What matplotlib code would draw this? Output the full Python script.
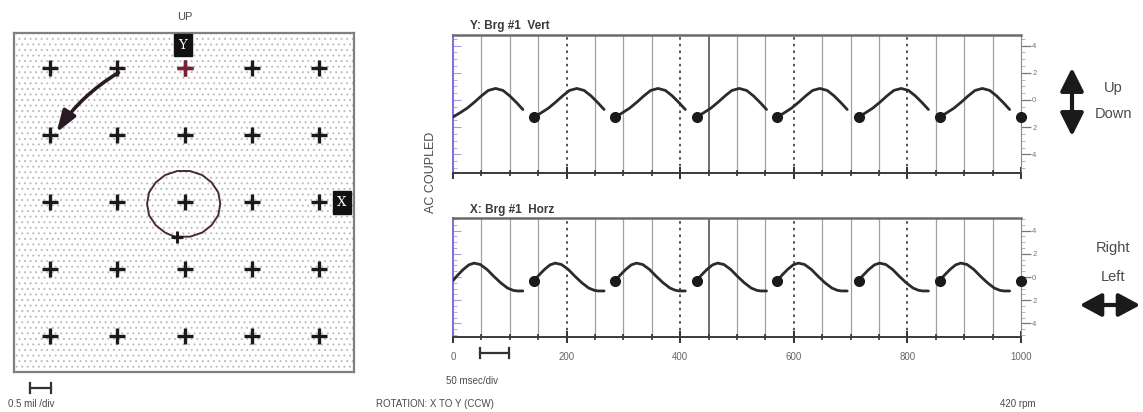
import matplotlib
matplotlib.use("Agg")
import matplotlib.pyplot as plt
from matplotlib.patches import Rectangle, FancyArrowPatch
from matplotlib.ticker import MultipleLocator, FixedLocator
import numpy as np

plt.rcParams['font.family'] = ['Liberation Sans', 'DejaVu Sans']
plt.rcParams['hatch.color'] = '#bdbdbd'
plt.rcParams['hatch.linewidth'] = 0.7

W, H = 1143, 412

# ---- orbit plot (units: divisions, 0.5 mil/div) ----
grid_x = [-2, -1, 0, 1, 2]
grid_y = [-2, -1, 0, 1, 2]
orbit_x = [-0.11, 0.08, 0.26, 0.40, 0.50, 0.53, 0.50, 0.40, 0.26, 0.08, -0.11,
           -0.29, -0.43, -0.53, -0.56, -0.53, -0.43, -0.29, -0.20, -0.13]
orbit_y = [-0.52, -0.52, -0.46, -0.35, -0.20, -0.03, 0.14, 0.29, 0.40, 0.46, 0.46,
           0.40, 0.29, 0.14, -0.03, -0.20, -0.35, -0.46, -0.50, -0.52]
orbit_kp = (-0.12, -0.52)
vector_start = (-0.95, 1.95)
vector_end = (-1.93, 1.0)

# ---- timebase plots (msec) ----
rev_start = [0, 143, 286, 429, 571, 714, 857]
keyphasor_t = [143, 286, 429, 571, 714, 857, 1000]
vert_t = [0, 12, 25, 38, 50, 62, 75, 88, 100, 112, 123]
vert_amp = [-1.25, -0.95, -0.6, -0.15, 0.3, 0.7, 0.85, 0.7, 0.3, -0.2, -0.7]
vert_kp = -1.25
horz_t = [0, 8, 18, 28, 37, 48, 60, 72, 84, 96, 106, 113, 123]
horz_amp = [-0.3, 0.15, 0.65, 1.05, 1.2, 1.08, 0.65, 0.05, -0.5, -0.95, -1.15, -1.2, -1.2]
horz_kp = -0.3
x_ticks = [0, 200, 400, 600, 800, 1000]
y_ticks = [-4, -2, 0, 2, 4]
y_ticklabels = ['4', '2', '0', '2', '4']

txt = '#4a4a4a'
fig = plt.figure(figsize=(W / 100, H / 100), dpi=100)


def fx(px):
    return px / W


def fy(py):
    return 1 - py / H


# ================= orbit =================
ax = fig.add_axes([fx(14), fy(372), fx(340), 339 / H])
ax.set_xlim(-2.54, 2.52)
ax.set_ylim(-2.54, 2.52)
ax.add_patch(Rectangle((-2.54, -2.54), 5.06, 5.06, facecolor='white',
                       hatch='...', edgecolor='#bdbdbd', lw=0, zorder=0))
for s in ax.spines.values():
    s.set_color('#808080')
    s.set_linewidth(1.6)
ax.set_xticks([])
ax.set_yticks([])
gx, gy = np.meshgrid(grid_x, grid_y)
ax.plot(gx.ravel(), gy.ravel(), '+', color='#1a1a1a', ms=11, mew=2.4, zorder=3)
ax.plot([0], [2], '+', color='#7a2035', ms=11, mew=2.4, zorder=4)

ax.plot(orbit_x, orbit_y, color='#4a2a3a', lw=1.4, zorder=5)
ax.plot([orbit_kp[0]], [orbit_kp[1]], '+', color='#1a1a1a', ms=8, mew=2.2, zorder=6)

ax.add_patch(FancyArrowPatch(vector_start, vector_end,
                             arrowstyle='-|>,head_length=0.65,head_width=0.22',
                             mutation_scale=20, connectionstyle='arc3,rad=0.12',
                             color='#2a1a24', lw=2.6, zorder=6))

ax.text(-0.03, 2.34, 'Y', color='white', fontsize=9.5, family='DejaVu Serif',
        ha='center', va='center', zorder=7,
        bbox=dict(boxstyle='square,pad=0.35', fc='#111111', ec='#111111'))
ax.text(2.34, -0.01, 'X', color='white', fontsize=9.5, family='DejaVu Serif',
        ha='center', va='center', zorder=7,
        bbox=dict(boxstyle='square,pad=0.35', fc='#111111', ec='#111111'))

fig.text(fx(185), fy(17), 'UP', fontsize=8, color=txt, ha='center', va='center')
fig.text(fx(8), fy(404), '0.5 mil /div', fontsize=7, color=txt, ha='left', va='center')
fig.add_artist(plt.Line2D([fx(30), fx(51)], [fy(388), fy(388)], color='#333', lw=1.6))
for px in (30, 51):
    fig.add_artist(plt.Line2D([fx(px), fx(px)], [fy(383), fy(393)], color='#333', lw=1.6))


# ================= timebase =================
def timebase(rect, ylim, t, amp, kp, title, labels):
    a = fig.add_axes(rect)
    a.set_xlim(0, 1000)
    a.set_ylim(*ylim)
    for g in range(50, 1000, 50):
        if g % 200 == 0:
            a.axvline(g, color='#333333', lw=1.2, ls=(0, (1.5, 2.5)), zorder=1)
        elif g == 450:
            a.axvline(g, color='#555555', lw=1.2, zorder=1)
        else:
            a.axvline(g, color='#a0a0a0', lw=0.9, zorder=1)
    for s in rev_start:
        a.plot([s + v for v in t], amp, color='#2e2a2c', lw=2.0,
               solid_capstyle='round', zorder=3)
    a.plot(keyphasor_t, [kp] * len(keyphasor_t), 'o', color='#1a1a1a', ms=7,
           clip_on=False, zorder=4)

    a.spines['top'].set_color('#6a6a6a')
    a.spines['top'].set_linewidth(1.8)
    a.spines['bottom'].set_color('#3a3a3a')
    a.spines['bottom'].set_linewidth(1.4)
    a.spines['right'].set_color('#8a8a8a')
    a.spines['left'].set_color('#7d72d6')
    a.spines['left'].set_linewidth(1.4)

    a.xaxis.set_major_locator(FixedLocator(x_ticks))
    a.xaxis.set_minor_locator(MultipleLocator(50))
    a.tick_params(axis='x', which='major', direction='inout', length=9, width=1.4,
                  color='#333', labelsize=7, labelcolor='#666', pad=6)
    a.tick_params(axis='x', which='minor', direction='inout', length=5, width=1.2,
                  color='#333')
    if not labels:
        a.tick_params(axis='x', labelbottom=False)

    a.yaxis.tick_right()
    a.yaxis.set_major_locator(FixedLocator(y_ticks))
    a.set_yticklabels(y_ticklabels)
    a.yaxis.set_minor_locator(MultipleLocator(0.5))
    a.tick_params(axis='y', which='major', direction='out', length=7, width=0.9,
                  color='#777', labelsize=5.5, labelcolor='#777', pad=1)
    a.tick_params(axis='y', which='minor', direction='out', length=3, width=0.6,
                  color='#aaa')

    sec = a.secondary_yaxis('left')
    sec.spines['left'].set_color('#7d72d6')
    sec.yaxis.set_major_locator(MultipleLocator(2))
    sec.yaxis.set_minor_locator(MultipleLocator(0.5))
    sec.tick_params(which='both', direction='in', color='#a59ce6', labelleft=False)
    sec.tick_params(which='major', length=6, width=0.8)
    sec.tick_params(which='minor', length=3, width=0.6)

    a.text(0.03, 1.02, title, transform=a.transAxes, fontsize=8.5, weight='bold',
           color='#3a3a3a', ha='left', va='bottom')
    return a


timebase([fx(453), fy(173), fx(568), 138 / H], (-5.37, 4.78),
         vert_t, vert_amp, vert_kp, 'Y: Brg #1  Vert', False)
timebase([fx(453), fy(337), fx(568), 119 / H], (-5.17, 5.09),
         horz_t, horz_amp, horz_kp, 'X: Brg #1  Horz', True)

fig.text(fx(431), fy(172), 'AC COUPLED', rotation=90, fontsize=9, color=txt,
         ha='center', va='center')
fig.text(fx(446), fy(381), '50 msec/div', fontsize=7, color=txt, ha='left', va='center')
fig.add_artist(plt.Line2D([fx(480), fx(509)], [fy(353), fy(353)], color='#333', lw=1.6))
for px in (480, 509):
    fig.add_artist(plt.Line2D([fx(px), fx(px)], [fy(348), fy(358)], color='#333', lw=1.6))

fig.text(fx(435), fy(404), 'ROTATION: X TO Y (CCW)', fontsize=7, color=txt,
         ha='center', va='center')
fig.text(fx(1018), fy(404), '420 rpm', fontsize=7, color=txt, ha='center', va='center')

fig.add_artist(FancyArrowPatch((fx(1072), fy(65)), (fx(1072), fy(139)),
                               transform=fig.transFigure,
                               arrowstyle='<|-|>,head_length=0.7,head_width=0.35',
                               mutation_scale=20, color='#1a1a1a', lw=3))
fig.text(fx(1113), fy(88), 'Up', fontsize=10.5, color=txt, ha='center', va='center')
fig.text(fx(1113), fy(114), 'Down', fontsize=10.5, color=txt, ha='center', va='center')

fig.add_artist(FancyArrowPatch((fx(1077), fy(305)), (fx(1143), fy(305)),
                               transform=fig.transFigure,
                               arrowstyle='<|-|>,head_length=0.65,head_width=0.35',
                               mutation_scale=20, color='#1a1a1a', lw=3))
fig.text(fx(1113), fy(248), 'Right', fontsize=10.5, color=txt, ha='center', va='center')
fig.text(fx(1113), fy(277), 'Left', fontsize=10.5, color=txt, ha='center', va='center')

fig.savefig('out.png', dpi=100)
